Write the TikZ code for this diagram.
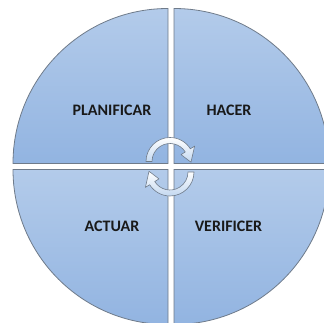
\documentclass[tikz,border=0pt]{standalone}
\usepackage{fontspec}
\setmainfont{Carlito}
\definecolor{qtop}{HTML}{B3CBEA}
\definecolor{qbot}{HTML}{92B4E1}
\definecolor{rim}{HTML}{6F7B8A}
\definecolor{arrbot}{HTML}{C3D8F0}
\begin{document}
\begin{tikzpicture}[
  x=1pt, y=1pt,
  quad/.style={draw=rim, line width=0.8pt, top color=qtop, bottom color=qbot},
  cyc/.style={draw=rim, line width=0.6pt, top color=white, bottom color=arrbot,
              line join=round},
  lbl/.style={font=\fontsize{16}{18}\selectfont\bfseries, text=black!90},
]
\clip (0,0) rectangle (324,323);
% Cuadrantes superiores
\draw[quad] (168,159.5) -- ++(-155,0) arc[start angle=180, end angle=90, radius=155] -- cycle;
\draw[quad] (174,159.5) -- ++(0,155) arc[start angle=90, end angle=0, radius=155] -- cycle;
% Cuadrantes inferiores
\draw[quad] (168,153.5) -- ++(-155,0) arc[start angle=180, end angle=270, radius=155] -- cycle;
\draw[quad] (174,153.5) -- ++(0,-155) arc[start angle=270, end angle=360, radius=155] -- cycle;

% Textos
\node[lbl] (plan) at (112,213) {PLANIFICAR};
\node[lbl] (hacer) at (229,213) {HACER};
\node[lbl] (actuar) at (112,97) {ACTUAR};
\node[lbl] (verif) at (228.5,97) {VERIFICER};

% Flechas del ciclo
\begin{scope}[shift={(170,161.5)}]
  \draw[cyc] (180:24) arc[start angle=180, end angle=32, radius=24]
    -- (32:29) -- (-2:21) -- (32:13) -- (32:18)
    arc[start angle=32, end angle=180, radius=18] -- cycle;
\end{scope}
\begin{scope}[shift={(170,151)}]
  \draw[cyc] (0:24) arc[start angle=0, end angle=-148, radius=24]
    -- (-148:29) -- (178:21) -- (-148:13) -- (-148:18)
    arc[start angle=-148, end angle=0, radius=18] -- cycle;
\end{scope}
\end{tikzpicture}
\end{document}
